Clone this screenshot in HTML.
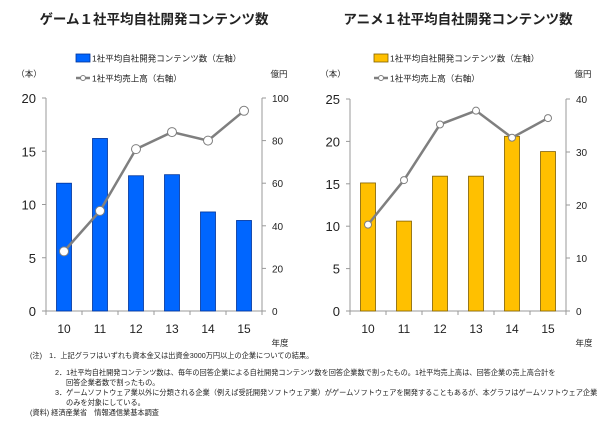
<!DOCTYPE html>
<html><head><meta charset="utf-8">
<style>
body{margin:0;background:#fff;font-family:"Liberation Sans","Noto Sans CJK JP",sans-serif;}
#wrap{position:relative;width:615px;height:426px;overflow:hidden}
.notes{position:absolute;left:30px;top:351px;font-size:7.2px;line-height:10px;color:#222;white-space:nowrap}
</style></head>
<body>
<div id="wrap">
<svg id="svg" width="615" height="426" xmlns="http://www.w3.org/2000/svg" style="position:absolute;left:0;top:0"></svg>
<div class="notes">
<div style="margin-bottom:7px">(注)　1．上記グラフはいずれも資本金又は出資金3000万円以上の企業についての結果。</div>
<div style="padding-left:25px">2．1社平均自社開発コンテンツ数は、毎年の回答企業による自社開発コンテンツ数を回答企業数で割ったもの。1社平均売上高は、回答企業の売上高合計を</div>
<div style="padding-left:36px">回答企業者数で割ったもの。</div>
<div style="padding-left:25px">3．ゲームソフトウェア業以外に分類される企業（例えば受託開発ソフトウェア業）がゲームソフトウェアを開発することもあるが、本グラフはゲームソフトウェア企業</div>
<div style="padding-left:36px">のみを対象にしている。</div>
<div>(資料) 経済産業省　情報通信業基本調査</div>
</div>
</div>
<script>
const categories = ["10","11","12","13","14","15"];
const gameContents = [12, 16.2, 12.7, 12.8, 9.3, 8.5];
const gameSales = [28, 47, 76, 84, 80, 94];
const animeContents = [15.1, 10.6, 15.9, 15.9, 20.6, 18.8];
const animeSales = [16.3, 24.7, 35.2, 37.8, 32.7, 36.4];
const gameLeftTicks = [0,5,10,15,20];
const gameRightTicks = [0,20,40,60,80,100];
const animeLeftTicks = [0,5,10,15,20,25];
const animeRightTicks = [0,10,20,30,40];

const NS="http://www.w3.org/2000/svg";
const svg=document.getElementById('svg');
function mk(tag,attrs,parent){const e=document.createElementNS(NS,tag);for(const k in attrs)e.setAttribute(k,attrs[k]);(parent||svg).appendChild(e);return e;}
function txt(x,y,s,size,anchor,parent,weight){const t=mk('text',{x:x,y:y,'font-size':size,'text-anchor':anchor||'middle',fill:'#222','font-weight':weight||'normal'},parent);t.textContent=s;return t;}

function chart(o){
  const g=mk('g',{});
  
  
  const L=o.x0,R=o.x1,T=o.top,B=o.bottom;
  const lmax=o.lt[o.lt.length-1], rmax=o.rt[o.rt.length-1];
  const yL=v=>B-(v/lmax)*(B-T);
  const yR=v=>B-(v/rmax)*(B-T);
  const step=(R-L)/categories.length;
  const xC=i=>L+step*(i+0.5);
  const title=txt((L+R)/2,24,o.title,13.5,'middle',g,'bold');
  
  
  const lb=mk('rect',{x:o.legX,y:54,width:14,height:8,fill:o.color,stroke:o.stroke,'stroke-width':0.8},g);
  
  
  txt(o.legX+16,61.5,'1社平均自社開発コンテンツ数（左軸）',8.5,'start',g);
  mk('line',{x1:o.legX,y1:78,x2:o.legX+14,y2:78,stroke:'#7f7f7f','stroke-width':2.5},g);
  mk('circle',{cx:o.legX+7,cy:78,r:2.5,fill:'#fff',stroke:'#7f7f7f','stroke-width':1},g);
  txt(o.legX+16,81.5,'1社平均売上高（右軸）',8.5,'start',g);
  txt(L-17,77,'（本）',8.5,'middle',g);
  txt(R+17,77,'億円',8.5,'middle',g);
  mk('line',{x1:L,y1:T,x2:L,y2:B,stroke:'#999','stroke-width':1},g);
  mk('line',{x1:R,y1:T,x2:R,y2:B,stroke:'#999','stroke-width':1},g);
  mk('line',{x1:L,y1:B,x2:R,y2:B,stroke:'#999','stroke-width':1},g);
  o.lt.forEach(v=>{mk('line',{x1:L-4,y1:yL(v),x2:L,y2:yL(v),stroke:'#999'},g);txt(L-10,yL(v)+5,String(v),13,'end',g);});
  o.rt.forEach(v=>{mk('line',{x1:R,y1:yR(v),x2:R+4,y2:yR(v),stroke:'#999'},g);txt(R+10,yR(v)+4,String(v),10,'start',g);});
  for(let i=0;i<=categories.length;i++){mk('line',{x1:L+step*i,y1:B,x2:L+step*i,y2:B+4,stroke:'#999'},g);}
  categories.forEach((c,i)=>txt(xC(i),333,c,12,'middle',g));
  txt(R+18,346,'年度',8.5,'middle',g);
  o.bars.forEach((v,i)=>{
    const r=mk('rect',{x:xC(i)-7.5,y:yL(v),width:15,height:B-yL(v),fill:o.color,stroke:o.stroke,'stroke-width':0.8},g);
    
    
  });
  const pts=o.line.map((v,i)=>xC(i)+','+yR(v)).join(' ');
  const pl=mk('polyline',{points:pts,fill:'none',stroke:'#7f7f7f','stroke-width':2.5},g);
  
  
  o.line.forEach((v,i)=>{
    const c=mk('circle',{cx:xC(i),cy:yR(v),r:o.r,fill:'#fff',stroke:'#7f7f7f','stroke-width':1},g);
    
    
  });
}
chart({name:'game-chart',title:'ゲーム１社平均自社開発コンテンツ数',x0:46,x1:262,top:98,bottom:311,lt:gameLeftTicks,rt:gameRightTicks,bars:gameContents,line:gameSales,color:'#0066ff',stroke:'#003399',legX:76,r:4.5});
chart({name:'anime-chart',title:'アニメ１社平均自社開発コンテンツ数',x0:350,x1:566,top:99,bottom:311,lt:animeLeftTicks,rt:animeRightTicks,bars:animeContents,line:animeSales,color:'#ffc000',stroke:'#7f5f00',legX:374,r:3.5});
</script>
</body></html>
